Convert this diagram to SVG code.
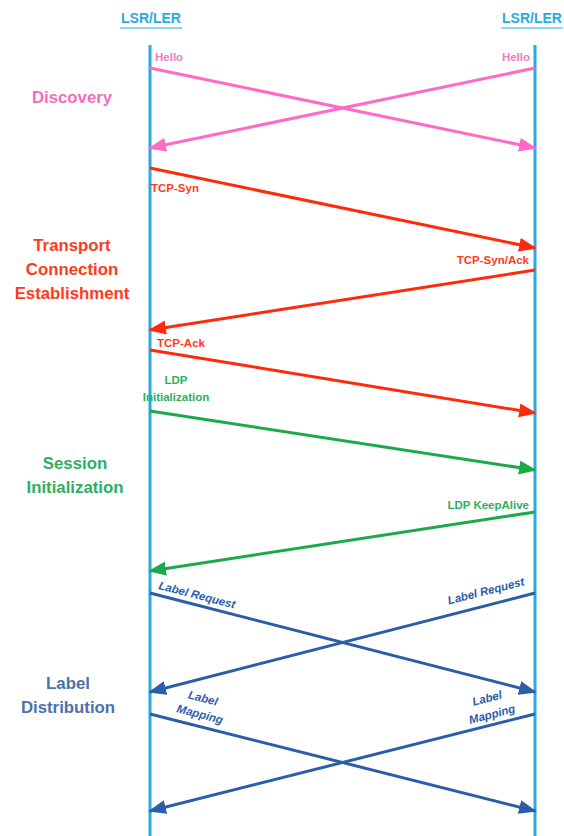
<svg xmlns="http://www.w3.org/2000/svg" width="564" height="836" viewBox="0 0 564 836">
  <style>
    text { font-family: "Liberation Sans", Arial, sans-serif; font-weight: bold; }
    .hdr { font-size: 14px; fill: #29aae1; }
    .phase { font-size: 16.8px; text-anchor: middle; }
    .msg { font-size: 11.5px; }
    .life { stroke: #29aae1; stroke-width: 3; fill: none; }
    .arrow { stroke-width: 3; fill: none; }
    .pink { stroke: #ff6ac6; }
    .red { stroke: #ff2a0c; }
    .green { stroke: #1aaa4c; }
    .blue { stroke: #2b5ea8; }
  </style>
  <defs>
    <marker id="ah-pink" markerUnits="userSpaceOnUse" markerWidth="18" markerHeight="14" refX="16" refY="7" orient="auto">
      <path d="M0,0 L18,7 L0,14 Z" fill="#ff6ac6"/>
    </marker>
    <marker id="ah-red" markerUnits="userSpaceOnUse" markerWidth="18" markerHeight="14" refX="16" refY="7" orient="auto">
      <path d="M0,0 L18,7 L0,14 Z" fill="#ff2a0c"/>
    </marker>
    <marker id="ah-green" markerUnits="userSpaceOnUse" markerWidth="18" markerHeight="14" refX="16" refY="7" orient="auto">
      <path d="M0,0 L18,7 L0,14 Z" fill="#1aaa4c"/>
    </marker>
    <marker id="ah-blue" markerUnits="userSpaceOnUse" markerWidth="18" markerHeight="14" refX="16" refY="7" orient="auto">
      <path d="M0,0 L18,7 L0,14 Z" fill="#2b5ea8"/>
    </marker>
  </defs>

  <!-- lifelines -->
  <g id="node-left">
    <text class="hdr" x="151" y="23" text-anchor="middle">LSR/LER</text>
    <line x1="120" y1="28" x2="182" y2="28" stroke="#29aae1" stroke-width="1.2"/>
    <line class="life" x1="150" y1="45" x2="150" y2="836"/>
  </g>
  <g id="node-right">
    <text class="hdr" x="532" y="23" text-anchor="middle">LSR/LER</text>
    <line x1="501" y1="28" x2="563" y2="28" stroke="#29aae1" stroke-width="1.2"/>
    <line class="life" x1="535" y1="45" x2="535" y2="836"/>
  </g>

  <!-- phase labels -->
  <g id="phase-discovery">
    <text class="phase" x="72" y="103" fill="#f06ec0">Discovery</text>
  </g>
  <g id="phase-transport">
    <text class="phase" x="72" y="251" fill="#ff3a1c">Transport</text>
    <text class="phase" x="72" y="275" fill="#ff3a1c">Connection</text>
    <text class="phase" x="72" y="299" fill="#ff3a1c">Establishment</text>
  </g>
  <g id="phase-session">
    <text class="phase" x="75" y="469" fill="#2eae62">Session</text>
    <text class="phase" x="75" y="493" fill="#2eae62">Initialization</text>
  </g>
  <g id="phase-label">
    <text class="phase" x="68" y="689" fill="#4a72ac">Label</text>
    <text class="phase" x="68" y="713" fill="#4a72ac">Distribution</text>
  </g>

  <!-- messages -->
  <g id="connectors">
    <line class="arrow pink" x1="150" y1="68" x2="535" y2="148" marker-end="url(#ah-pink)"/>
    <line class="arrow pink" x1="535" y1="68" x2="150" y2="148" marker-end="url(#ah-pink)"/>

    <line class="arrow red" x1="150" y1="168" x2="535" y2="248" marker-end="url(#ah-red)"/>
    <line class="arrow red" x1="535" y1="270" x2="150" y2="330" marker-end="url(#ah-red)"/>
    <line class="arrow red" x1="150" y1="350" x2="535" y2="413" marker-end="url(#ah-red)"/>

    <line class="arrow green" x1="150" y1="411" x2="535" y2="470" marker-end="url(#ah-green)"/>
    <line class="arrow green" x1="535" y1="512" x2="150" y2="571" marker-end="url(#ah-green)"/>

    <line class="arrow blue" x1="150" y1="593" x2="535" y2="692" marker-end="url(#ah-blue)"/>
    <line class="arrow blue" x1="535" y1="593" x2="150" y2="692" marker-end="url(#ah-blue)"/>
    <line class="arrow blue" x1="150" y1="714" x2="535" y2="811" marker-end="url(#ah-blue)"/>
    <line class="arrow blue" x1="535" y1="714" x2="150" y2="811" marker-end="url(#ah-blue)"/>
  </g>

  <!-- message labels -->
  <g id="labels">
    <text class="msg" x="155" y="61" fill="#ef7cc4">Hello</text>
    <text class="msg" x="530" y="61" fill="#ef7cc4" text-anchor="end">Hello</text>

    <text class="msg" x="151" y="192" fill="#ff3a1c">TCP-Syn</text>
    <text class="msg" x="529" y="264" fill="#ff3a1c" text-anchor="end">TCP-Syn/Ack</text>
    <text class="msg" x="157" y="347" fill="#ff3a1c">TCP-Ack</text>

    <text class="msg" x="176" y="384" fill="#2eae62" text-anchor="middle">LDP</text>
    <text class="msg" x="176" y="401" fill="#2eae62" text-anchor="middle">Initialization</text>
    <text class="msg" x="529" y="509" fill="#2eae62" text-anchor="end">LDP KeepAlive</text>

    <text class="msg" x="158" y="589" fill="#2b5ea8" font-style="italic" transform="rotate(14.4 158 589)">Label Request</text>
    <text class="msg" x="525" y="585" fill="#2b5ea8" font-style="italic" text-anchor="end" transform="rotate(-14.4 525 585)">Label Request</text>

    <text class="msg" x="202" y="702" fill="#2b5ea8" font-style="italic" text-anchor="middle" transform="rotate(14.4 202 702)">Label</text>
    <text class="msg" x="199" y="718" fill="#2b5ea8" font-style="italic" text-anchor="middle" transform="rotate(14.4 199 718)">Mapping</text>
    <text class="msg" x="488" y="702" fill="#2b5ea8" font-style="italic" text-anchor="middle" transform="rotate(-14.4 488 702)">Label</text>
    <text class="msg" x="493" y="718" fill="#2b5ea8" font-style="italic" text-anchor="middle" transform="rotate(-14.4 493 718)">Mapping</text>
  </g>
</svg>
